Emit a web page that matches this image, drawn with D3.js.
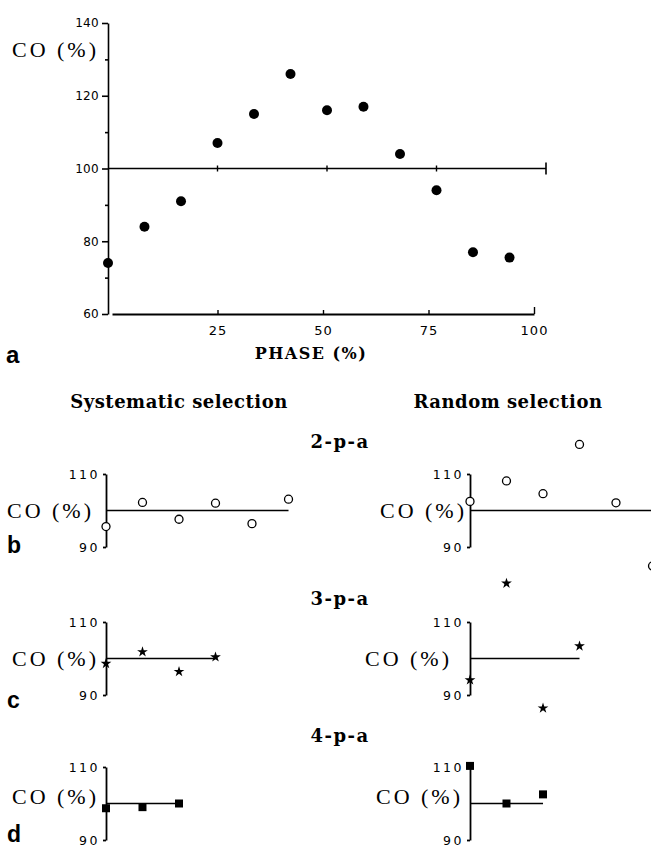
<!DOCTYPE html>
<html>
<head>
<meta charset="utf-8">
<script src="https://cdn.jsdelivr.net/npm/d3@7"></script>
<style>
  body { margin: 0; background: #fff; }
  svg { display: block; }
  .tick text { fill: #000; }
</style>
</head>
<body>
<div id="chart"></div>
<script>
// panel a: cardiac output against phase of the respiratory cycle
const phaseA = [0, 8.33, 16.67, 25, 33.33, 41.67, 50, 58.33, 66.67, 75, 83.33, 91.67];
const coA = [74, 84, 91, 107, 115, 126, 116, 117, 104, 94, 77, 75.5];
const yTicksA = [60, 80, 100, 120, 140];
const yMinorA = [70, 90, 110, 130];
const xTicksA = [25, 50, 75, 100];

// panels b-d: phases of the sampled points
const subPhase = [0, 8.33, 16.67, 25, 33.33, 41.67];
const rowNames = ["2-p-a", "3-p-a", "4-p-a"];
const rowLetters = ["b", "c", "d"];
const colTitles = ["Systematic selection", "Random selection"];

// CO (%) of the selected points
const sys2 = [95.6, 102.2, 97.6, 102.0, 96.4, 103.1];
const rnd2 = [102.5, 108.1, 104.6, 118.1, 102.1, 84.8];
const sys3 = [98.6, 101.8, 96.4, 100.4];
const rnd3 = [94.1, 120.6, 86.4, 103.4];
const sys4 = [98.7, 99.0, 100.0];
const rnd4 = [110.3, 100.0, 102.5];
const subTicks = [90, 110];

const W = 651, H = 846;
const serif = "'DejaVu Serif', serif";
const coFont = "'Liberation Serif', 'Times New Roman', serif";
const sans = "'DejaVu Sans', sans-serif";
const boldSans = "'Liberation Sans', Arial, sans-serif";

const svg = d3.select("#chart").append("svg")
    .attr("width", W)
    .attr("height", H);
svg.append("rect").attr("width", W).attr("height", H).attr("fill", "#fff");

// ---------- panel a ----------
const xA = d3.scaleLinear().domain([0, 100]).range([108, 546]);
const xAxisScale = d3.scaleLinear().domain([0, 100]).range([112, 534]);
const yA = d3.scaleLinear().domain([60, 140]).range([314, 23]);

const gA = svg.append("g");

gA.append("g")
    .attr("transform", "translate(108,0)")
    .call(d3.axisLeft(yA).tickValues(yTicksA).tickSizeInner(6).tickSizeOuter(0).tickPadding(3))
    .call(g => g.selectAll("text").attr("font-family", sans).attr("font-size", 12).attr("letter-spacing", 0.3));
gA.append("g")
    .attr("transform", "translate(108,0)")
    .call(d3.axisLeft(yA).tickValues(yMinorA).tickSize(3).tickFormat(""))
    .call(g => g.select(".domain").remove());
gA.selectAll(".domain, .tick line").attr("stroke", "#000").attr("stroke-width", 1.6);

gA.append("g")
    .attr("transform", "translate(0,314)")
    .call(d3.axisBottom(xAxisScale).tickValues(xTicksA).tickSizeInner(-4).tickSizeOuter(0).tickPadding(12))
    .call(g => g.select(".domain").attr("stroke-width", 2))
    .call(g => g.selectAll(".tick line").attr("stroke-width", 1.4))
    .call(g => g.selectAll(".tick").filter(d => d === 100).select("line").attr("y1", 0).attr("y2", -7))
    .call(g => g.selectAll("text").attr("font-family", sans).attr("font-size", 13).attr("letter-spacing", 1));

// reference line at 100 %
const y100 = yA(100);
gA.append("line")
    .attr("x1", xA(0)).attr("x2", xA(100))
    .attr("y1", y100).attr("y2", y100)
    .attr("stroke", "#000").attr("stroke-width", 1.6);
gA.selectAll(".cross")
    .data([25, 50, 75])
    .join("line")
    .attr("x1", d => xA(d)).attr("x2", d => xA(d))
    .attr("y1", y100 - 3).attr("y2", y100 + 3)
    .attr("stroke", "#000").attr("stroke-width", 1.4);
gA.append("line")
    .attr("x1", xA(100)).attr("x2", xA(100))
    .attr("y1", y100 - 6).attr("y2", y100 + 6)
    .attr("stroke", "#000").attr("stroke-width", 1.6);

gA.selectAll(".dot")
    .data(phaseA.map((p, i) => [p, coA[i]]))
    .join("circle")
    .attr("cx", d => xA(d[0]))
    .attr("cy", d => yA(d[1]))
    .attr("r", 5)
    .attr("fill", "#000");

gA.append("text")
    .attr("x", 99).attr("y", 57)
    .attr("text-anchor", "end")
    .attr("font-family", coFont).attr("font-size", 22).attr("letter-spacing", 3)
    .text("CO (%)");
gA.append("text")
    .attr("x", 311).attr("y", 359)
    .attr("text-anchor", "middle")
    .attr("font-family", serif).attr("font-size", 16).attr("font-weight", "bold").attr("letter-spacing", 1.5)
    .text("PHASE (%)");
gA.append("text")
    .attr("x", 6).attr("y", 363)
    .attr("font-family", boldSans).attr("font-size", 24).attr("font-weight", "bold")
    .text("a");

// ---------- panels b-d ----------
svg.selectAll(".colTitle")
    .data(colTitles)
    .join("text")
    .attr("x", (d, i) => [179, 508][i])
    .attr("y", 408)
    .attr("text-anchor", "middle")
    .attr("font-family", serif).attr("font-size", 18).attr("font-weight", "bold").attr("letter-spacing", 0.5)
    .text(d => d);

const rowData = [[sys2, rnd2], [sys3, rnd3], [sys4, rnd4]];
const rowTop = [474, 622, 767];      // y of the 110 tick
const rowTitleY = [448, 605, 742];
const letterY = [553, 708, 842];
const labelDy = [7, 7, 0];
const rowH = 73;
const colAxisX = [106, 470];
const labelEnd = [[94, 467], [99, 452], [99, 463]];
const symbols = [
    null,
    d3.symbol(d3.symbolStar, 36),
    d3.symbol(d3.symbolSquare, 64)
];

rowData.forEach((pair, r) => {
    const y = d3.scaleLinear().domain([90, 110]).range([rowTop[r] + rowH, rowTop[r]]);

    svg.append("text")
        .attr("x", 340).attr("y", rowTitleY[r])
        .attr("text-anchor", "middle")
        .attr("font-family", serif).attr("font-size", 18).attr("font-weight", "bold").attr("letter-spacing", 1.5)
        .text(rowNames[r]);

    svg.append("text")
        .attr("x", 7).attr("y", letterY[r])
        .attr("font-family", boldSans).attr("font-size", 23).attr("font-weight", "bold")
        .text(rowLetters[r]);

    pair.forEach((vals, c) => {
        const ax = colAxisX[c];
        const x = d3.scaleLinear().domain([0, 100]).range([ax, ax + 438]);
        const g = svg.append("g");

        g.append("g")
            .attr("transform", `translate(${ax},0)`)
            .call(d3.axisLeft(y).tickValues(subTicks).tickSizeInner(3).tickSizeOuter(0).tickPadding(3))
            .call(g => g.selectAll(".domain, .tick line").attr("stroke", "#000").attr("stroke-width", 1.8))
            .call(g => g.selectAll("text").attr("font-family", sans).attr("font-size", 12.5).attr("letter-spacing", 2.5));

        const phases = subPhase.slice(0, vals.length);
        g.append("line")
            .attr("x1", ax).attr("x2", x(phases[phases.length - 1]))
            .attr("y1", y(100)).attr("y2", y(100))
            .attr("stroke", "#000").attr("stroke-width", 1.6);

        g.append("text")
            .attr("x", labelEnd[r][c]).attr("y", y(100) + labelDy[r])
            .attr("text-anchor", "end")
            .attr("font-family", coFont).attr("font-size", 22).attr("letter-spacing", 3)
            .text("CO (%)");

        const pts = phases.map((p, i) => [p, vals[i]]);
        if (r === 0) {
            g.selectAll("circle")
                .data(pts)
                .join("circle")
                .attr("cx", d => x(d[0]))
                .attr("cy", d => y(d[1]))
                .attr("r", 4)
                .attr("fill", "#fff")
                .attr("stroke", "#000")
                .attr("stroke-width", 1.3);
        } else {
            g.selectAll(".pt")
                .data(pts)
                .join("path")
                .attr("transform", d => `translate(${x(d[0])},${y(d[1])})`)
                .attr("d", symbols[r])
                .attr("fill", "#000");
        }
    });
});
</script>
</body>
</html>
